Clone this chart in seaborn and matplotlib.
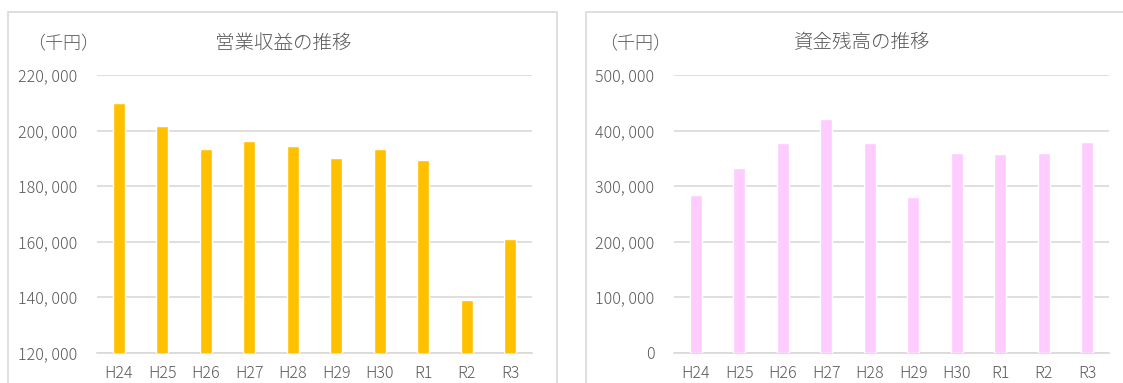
import matplotlib
matplotlib.use("Agg")
import matplotlib.pyplot as plt
from matplotlib.patches import Rectangle
from matplotlib.ticker import FuncFormatter, MultipleLocator
import seaborn as sns
import pandas as pd

# Fiscal years (Heisei 24 .. Reiwa 3)
years = ["H24", "H25", "H26", "H27", "H28", "H29", "H30", "R1", "R2", "R3"]

# 営業収益 (thousand yen)
operating_revenue = [209800, 201500, 193400, 196100, 194300, 190100, 193400, 189300, 139100, 161100]

# 資金残高 (thousand yen)
fund_balance = [284000, 332000, 377000, 420000, 377000, 280000, 359000, 358000, 359000, 379000]

titles = ["営業収益の推移", "資金残高の推移"]
unit_label = "（千円）"

sns.set_theme(style="white")
plt.rcParams["font.family"] = ["Noto Sans CJK JP", "DejaVu Sans"]
plt.rcParams["font.weight"] = "light"

TEXT = "#595959"
GRID = "#D9D9D9"

W, H = 1123, 383
fig = plt.figure(figsize=(W / 100, H / 100), dpi=100)
fig.patch.set_facecolor("white")


def px_box(x0, y_top, x1, y_bottom):
    return [x0 / W, 1 - y_bottom / H, (x1 - x0) / W, (y_bottom - y_top) / H]


def thousands(v, _pos):
    return f"{v:,.0f}".replace(",", ", ")


# Chart frames
for x0, x1 in [(8, 557), (586, 1140)]:
    fig.add_artist(Rectangle((x0 / W, -0.1), (x1 - x0) / W, 1.1 - 12 / H,
                             transform=fig.transFigure, fill=False,
                             edgecolor=GRID, linewidth=1.2, clip_on=False))

panels = [
    dict(values=operating_revenue, color="#FFC000", ylim=(120000, 220000), step=20000,
         box=(97, 75, 532, 352.7), title_x=283, unit_x=63),
    dict(values=fund_balance, color="#FFCCFF", ylim=(0, 500000), step=100000,
         box=(674, 75, 1109, 352.7), title_x=862, unit_x=635),
]

for p, title in zip(panels, titles):
    ax = fig.add_axes(px_box(*p["box"]))
    df = pd.DataFrame({"year": years, "value": p["values"]})
    sns.barplot(data=df, x="year", y="value", color=p["color"], width=0.28,
                saturation=1, ax=ax, zorder=3)
    ax.set_ylim(*p["ylim"])
    ax.set_xlim(-0.5, len(years) - 0.5)
    ax.yaxis.set_major_locator(MultipleLocator(p["step"]))
    ax.yaxis.set_major_formatter(FuncFormatter(thousands))
    ax.grid(axis="y", color=GRID, linewidth=1.2, zorder=0)
    ax.set_axisbelow(True)
    for side in ["top", "right", "left"]:
        ax.spines[side].set_visible(False)
    ax.spines["bottom"].set_color(GRID)
    ax.spines["bottom"].set_linewidth(1.2)
    ax.set_xlabel("")
    ax.set_ylabel("")
    ax.tick_params(axis="y", length=0, pad=14, labelsize=11.5, labelcolor=TEXT)
    ax.tick_params(axis="x", length=0, pad=9, labelsize=11.5, labelcolor=TEXT)
    for lbl in ax.get_xticklabels() + ax.get_yticklabels():
        lbl.set_fontweight("light")
    fig.text(p["title_x"] / W, 1 - 43 / H, title, ha="center", va="center",
             fontsize=14, color=TEXT, fontweight="light")
    fig.text(p["unit_x"] / W, 1 - 44 / H, unit_label, ha="center", va="center",
             fontsize=13, color=TEXT, fontweight="light")

fig.savefig("out.png", dpi=100, facecolor="white")
